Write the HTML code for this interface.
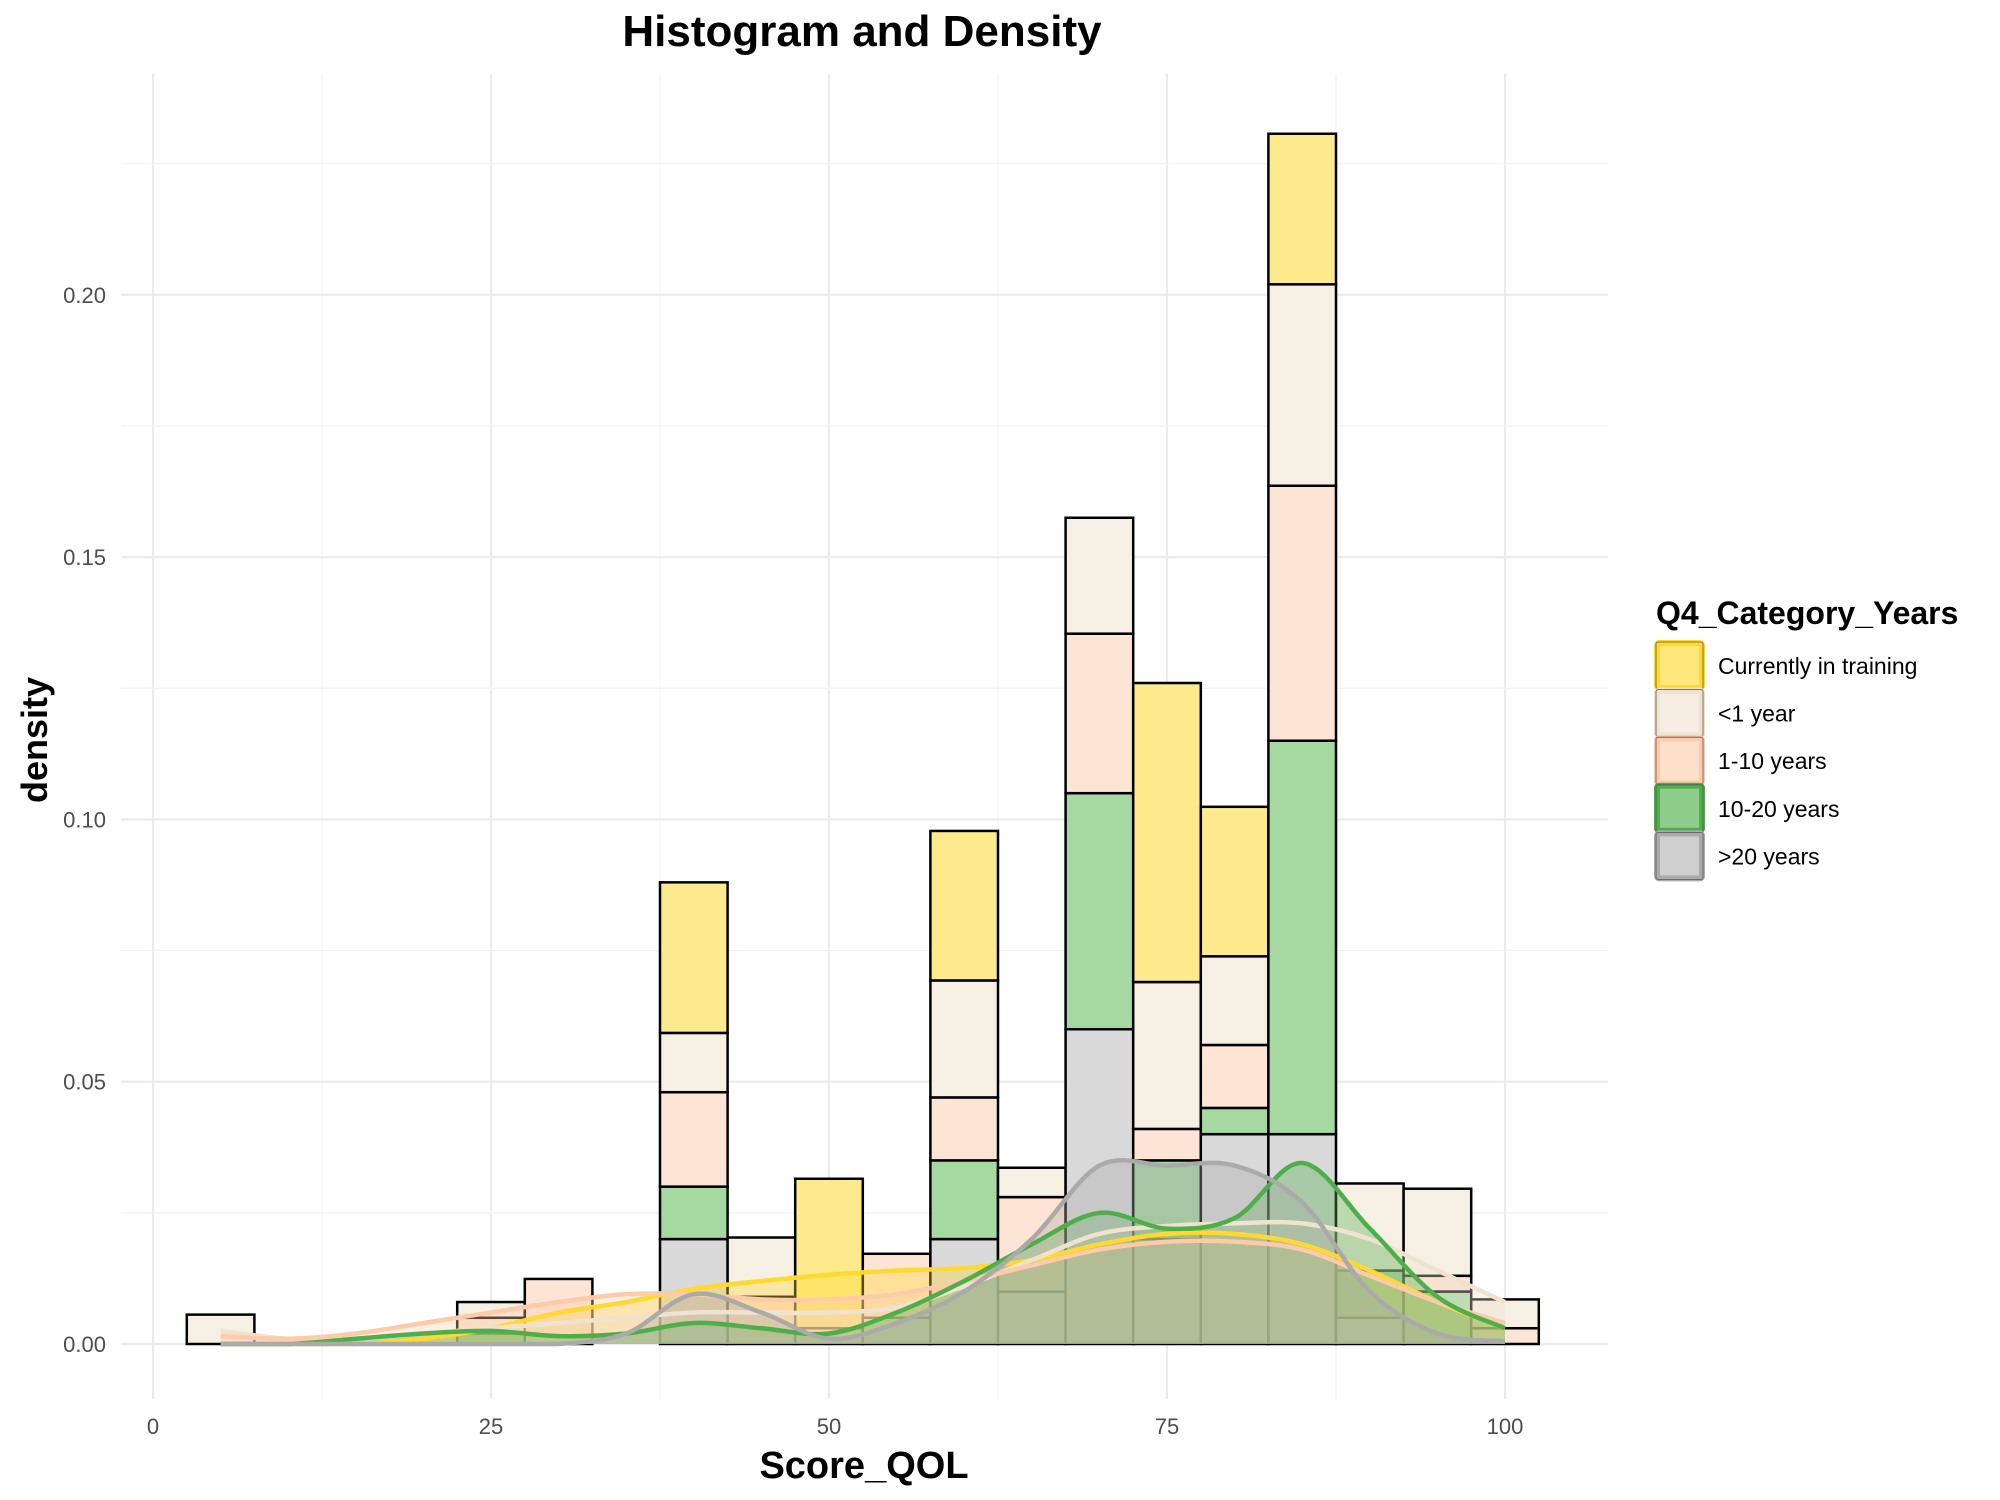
<!DOCTYPE html>
<html><head><meta charset="utf-8"><style>
body{margin:0;background:#fff;}
svg{display:block;font-family:"Liberation Sans",Arial,sans-serif;}
</style></head><body>
<svg id="chart" width="2000" height="1500" viewBox="0 0 2000 1500">
<rect width="2000" height="1500" fill="#fff"/>
<g id="grid"></g>
<g id="bars"></g>
<g id="dens"></g>
<g id="axes"></g>
<text x="862" y="46" text-anchor="middle" font-size="44" font-weight="bold">Histogram and Density</text>
<text x="864" y="1478" text-anchor="middle" font-size="38" font-weight="bold">Score_QOL</text>
<text transform="translate(47,740) rotate(-90)" text-anchor="middle" font-size="36" font-weight="bold">density</text>
<g id="legend">
<text x="1656" y="624" font-size="32" font-weight="bold">Q4_Category_Years</text>
</g>
</svg>
<script>
const groups = ["Currently in training","<1 year","1-10 years","10-20 years",">20 years"];
const binCenters = [5,10,15,20,25,30,35,40,45,50,55,60,65,70,75,80,85,90,95,100];
// per-group histogram density (stacked: >20 bottom ... training top)
const histGray   = [0,0,0,0,0,0,0,0.020,0,0,0.005,0.020,0.010,0.060,0.020,0.040,0.040,0.005,0,0];
const histGreen  = [0,0,0,0,0.002,0,0,0.010,0,0,0,0.015,0,0.045,0.015,0.005,0.075,0.009,0.010,0];
const histPeach  = [0,0,0,0,0.003,0.0124,0,0.018,0.009,0.003,0.0122,0.012,0.018,0.0304,0.006,0.012,0.0486,0,0.003,0.003];
const histCream  = [0.0056,0,0,0,0.003,0,0,0.0113,0.0113,0,0,0.0223,0.0056,0.0221,0.028,0.0169,0.0384,0.0166,0.0166,0.0055];
const histYellow = [0,0,0,0,0,0,0,0.0287,0,0.0285,0,0.0285,0,0,0.057,0.0285,0.0287,0,0,0];
// density curves evaluated at the bin centers
const densYellow = [0,0,0,0.001,0.003,0.006,0.008,0.0105,0.012,0.0132,0.014,0.0145,0.016,0.019,0.021,0.021,0.019,0.014,0.008,0.003];
const densCream  = [0.0025,0.001,0.001,0.002,0.003,0.004,0.005,0.006,0.006,0.006,0.007,0.011,0.016,0.021,0.0225,0.023,0.023,0.020,0.014,0.008];
const densPeach  = [0.0015,0.001,0.002,0.004,0.006,0.008,0.0095,0.0095,0.0085,0.0085,0.0095,0.012,0.015,0.018,0.0195,0.0195,0.018,0.013,0.008,0.004];
const densGreen  = [0,0,0.001,0.002,0.0025,0.0015,0.002,0.004,0.003,0.002,0.006,0.012,0.019,0.025,0.022,0.024,0.0345,0.022,0.009,0.003];
const densGray   = [0,0,0,0,0,0,0.002,0.0095,0.006,0.001,0.004,0.010,0.020,0.034,0.034,0.034,0.027,0.010,0.002,0.0005];
const xTicks = [0,25,50,75,100];
const yTicks = [0,0.05,0.10,0.15,0.20];
const yTickLabels = ["0.00","0.05","0.10","0.15","0.20"];
const legendLabels = ["Currently in training","<1 year","1-10 years","10-20 years",">20 years"];

const NS="http://www.w3.org/2000/svg";
const X0=153, XS=13.52, Y0=1344, YS=5246;
const px=v=>X0+v*XS, py=v=>Y0-v*YS;
const PL=121,PR=1608,PT=74,PB=1399;
function mk(tag,attrs,parent){const e=document.createElementNS(NS,tag);for(const k in attrs)e.setAttribute(k,attrs[k]);parent.appendChild(e);return e;}
const grid=document.getElementById('grid'),bars=document.getElementById('bars'),dens=document.getElementById('dens'),axes=document.getElementById('axes'),legend=document.getElementById('legend');
for(let i=0;i<xTicks.length;i++){
  const l=mk('line',{x1:px(xTicks[i]),x2:px(xTicks[i]),y1:PT,y2:PB,stroke:'#ebebeb','stroke-width':2.2},grid);
  
  if(i<xTicks.length-1){const m=(xTicks[i]+xTicks[i+1])/2;
    const g=mk('line',{x1:px(m),x2:px(m),y1:PT,y2:PB,stroke:'#f2f2f2','stroke-width':1.2},grid);
    }
}
for(let i=0;i<yTicks.length;i++){
  const l=mk('line',{x1:PL,x2:PR,y1:py(yTicks[i]),y2:py(yTicks[i]),stroke:'#ebebeb','stroke-width':2.2},grid);
  
  const m=yTicks[i]+0.025;
  const g=mk('line',{x1:PL,x2:PR,y1:py(m),y2:py(m),stroke:'#f2f2f2','stroke-width':1.2},grid);
  
  const t=mk('text',{x:PL-15,y:py(yTicks[i])+8,'text-anchor':'end','font-size':22,fill:'#4d4d4d'},axes);
  t.textContent=yTickLabels[i];
  
}
for(let i=0;i<xTicks.length;i++){
  const t=mk('text',{x:px(xTicks[i]),y:1434,'text-anchor':'middle','font-size':22,fill:'#4d4d4d'},axes);
  t.textContent=String(xTicks[i]);
  
}
const stack=[histGray,histGreen,histPeach,histCream,histYellow];
const barFill=['#d9d9d9','#a6d8a2','#fee4d4','#f6efe4','#fdea8c'];
const barNames=['bar-over-20-years','bar-10-20-years','bar-1-10-years','bar-under-1-year','bar-currently-in-training'];
for(let b=0;b<binCenters.length;b++){
  let base=0;
  for(let s=0;s<stack.length;s++){
    const v=stack[s][b]; if(v<=0) continue;
    const r=mk('rect',{x:px(binCenters[b]-2.5),y:py(base+v),width:5*XS,height:v*YS,fill:barFill[s],stroke:'#000','stroke-width':2.5},bars);
    
    base+=v;
  }
}
const densArr=[densYellow,densCream,densPeach,densGreen,densGray];
const lineCol=['#ffd92f','#efe3cf','#fdcbaa','#4daf4a','#aaaaaa'];
const densNames=['density-currently-in-training','density-under-1-year','density-1-10-years','density-10-20-years','density-over-20-years'];
function smoothPath(arr){
  const P=binCenters.map((c,i)=>[px(c),py(arr[i])]);
  let d='M'+P[0][0]+','+P[0][1];
  for(let i=0;i<P.length-1;i++){
    const p0=P[Math.max(0,i-1)],p1=P[i],p2=P[i+1],p3=P[Math.min(P.length-1,i+2)];
    const c1=[p1[0]+(p2[0]-p0[0])/6,p1[1]+(p2[1]-p0[1])/6];
    const c2=[p2[0]-(p3[0]-p1[0])/6,p2[1]-(p3[1]-p1[1])/6];
    d+=` C${c1[0]},${Math.min(c1[1],Y0)} ${c2[0]},${Math.min(c2[1],Y0)} ${p2[0]},${p2[1]}`;
  }
  return d;
}
for(let g=0;g<densArr.length;g++){
  const d=smoothPath(densArr[g]);
  const f=mk('path',{d:d+` L${px(100)},${Y0} L${px(5)},${Y0} Z`,fill:lineCol[g],'fill-opacity':0.35,stroke:'none'},dens);
  
}
for(let g=0;g<densArr.length;g++){
  const l=mk('path',{d:smoothPath(densArr[g]),fill:'none',stroke:lineCol[g],'stroke-width':4.5},dens);
  
}
const keyFill=['#fde67a','#f6ede2','#fde0cc','#8fcd8c','#cfcfcf'];
for(let i=0;i<legendLabels.length;i++){
  const y=643+i*47.6;
  const r=mk('rect',{x:1657,y:y,width:45,height:45,rx:2,fill:keyFill[i],stroke:lineCol[i],'stroke-width':6},legend);
  
  const o=mk('rect',{x:1656,y:y-1,width:47,height:47,rx:2,fill:'none',stroke:'#555','stroke-width':0.8},legend);
  
  const t=mk('text',{x:1718,y:y+31,'font-size':23,fill:'#000'},legend);
  t.textContent=legendLabels[i];
  
}
</script>
</body></html>
